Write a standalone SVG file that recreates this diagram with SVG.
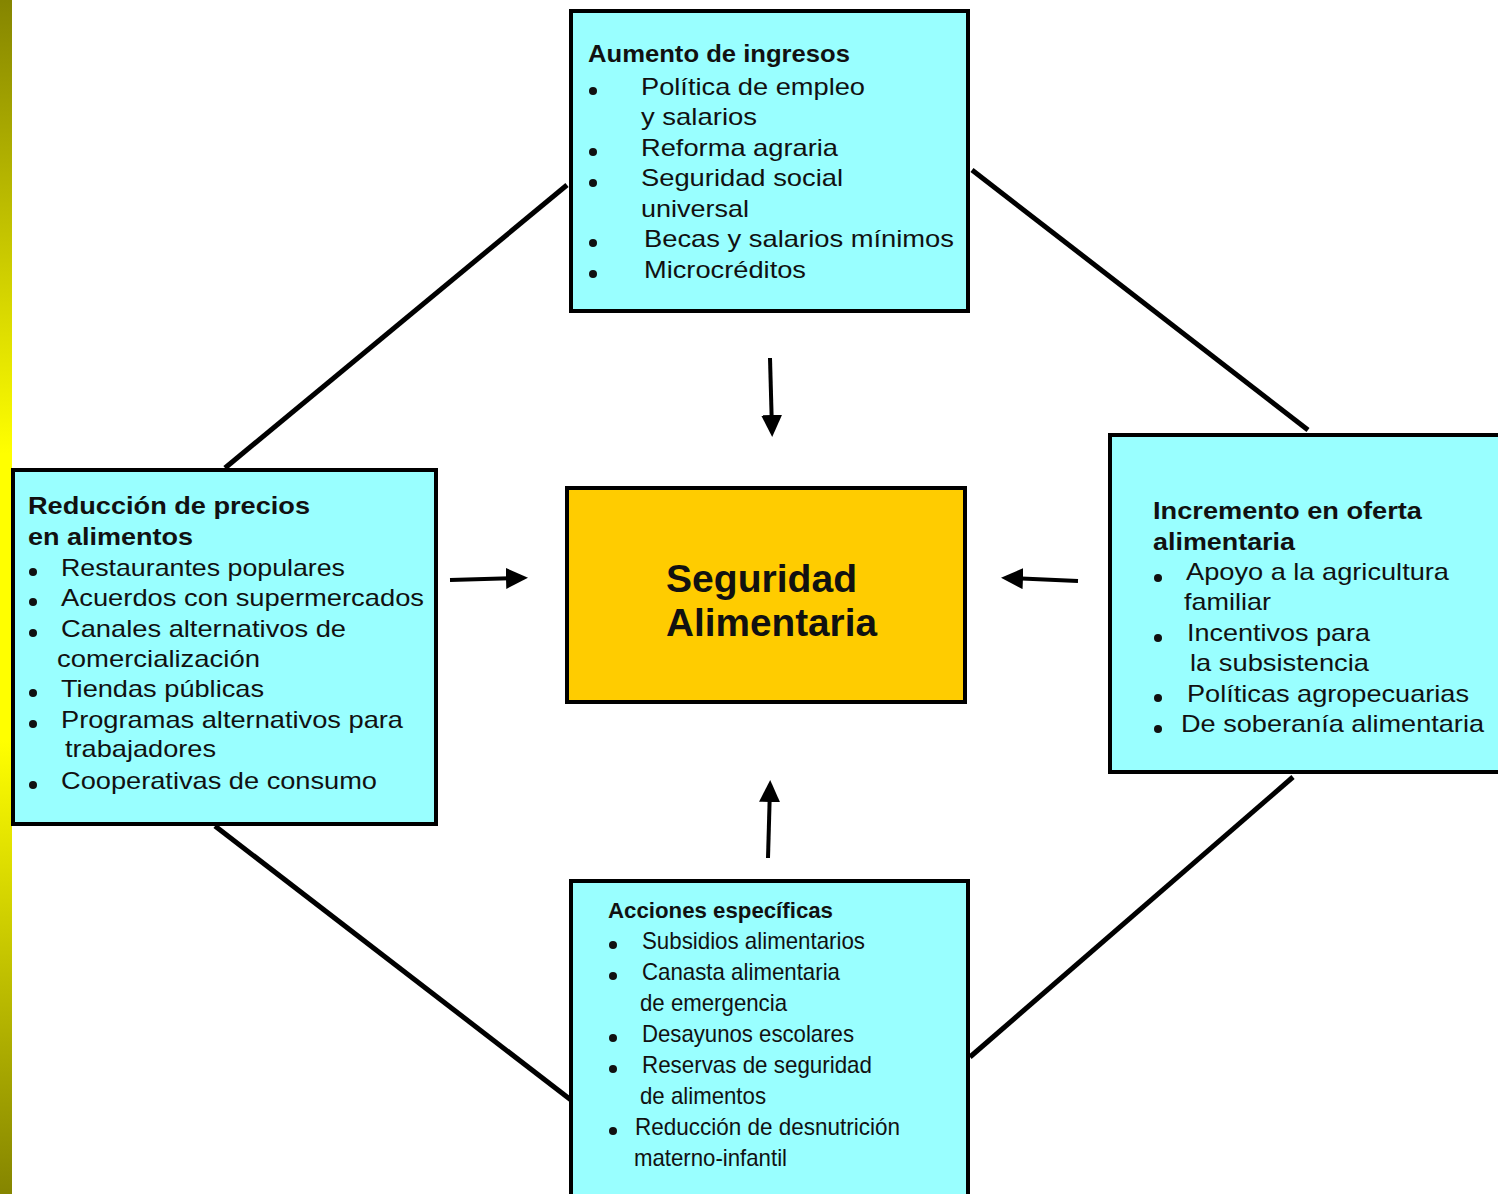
<svg xmlns="http://www.w3.org/2000/svg" width="1498" height="1194" viewBox="0 0 1498 1194">
<style>
.box{fill:#99ffff;stroke:#000;stroke-width:4}
.core{fill:#ffcc00;stroke:#000;stroke-width:4}
.t{font-family:"Liberation Sans",Arial,Helvetica,sans-serif;font-size:24px;fill:#111}
.h{font-weight:bold}
.c{font-family:"Liberation Sans",Arial,Helvetica,sans-serif;font-size:38px;font-weight:bold;fill:#111}
.s{font-size:22px}
.dot{fill:#111}
.diag{stroke:#000;stroke-width:5;fill:none}
.arr{stroke:#000;stroke-width:4;fill:none;marker-end:url(#ah)}
</style>
<defs>
<linearGradient id="strip" x1="0" y1="0" x2="0" y2="1">
<stop offset="0" stop-color="#858500"/>
<stop offset="0.38" stop-color="#ffff00"/>
<stop offset="0.62" stop-color="#ffff00"/>
<stop offset="1" stop-color="#858500"/>
</linearGradient>
<marker id="ah" markerUnits="userSpaceOnUse" markerWidth="24" markerHeight="22" refX="15" refY="10.5" orient="auto" viewBox="0 0 24 22">
<path d="M0,0 L22,10.5 L0,21 Z" fill="#000"/>
</marker>
</defs>
<rect x="0" y="0" width="1498" height="1194" fill="#fff"/>
<rect id="strip-left" x="0" y="0" width="12" height="1194" fill="url(#strip)"/>

<g id="connectors">
<line class="diag" x1="567" y1="185" x2="225" y2="468"/>
<line class="diag" x1="972" y1="170" x2="1308" y2="430"/>
<line class="diag" x1="215" y1="826" x2="571" y2="1100"/>
<line class="diag" x1="970" y1="1057" x2="1293" y2="777"/>
<line class="arr" x1="770" y1="358" x2="772" y2="430"/>
<line class="arr" x1="450" y1="580" x2="521" y2="578"/>
<line class="arr" x1="1078" y1="581" x2="1008" y2="578"/>
<line class="arr" x1="768" y1="858" x2="770" y2="787"/>
</g>

<g id="node-center">
<rect class="core" x="567" y="488" width="398" height="214"/>
<text class="c" x="666" y="592" textLength="191" lengthAdjust="spacingAndGlyphs">Seguridad</text>
<text class="c" x="666" y="636" textLength="211" lengthAdjust="spacingAndGlyphs">Alimentaria</text>
</g>

<g id="node-top">
<rect class="box" x="571" y="11" width="397" height="300"/>
<text class="t h" x="588" y="62" textLength="262" lengthAdjust="spacingAndGlyphs">Aumento de ingresos</text>
<circle class="dot" cx="593" cy="91" r="4"/>
<circle class="dot" cx="593" cy="152" r="4"/>
<circle class="dot" cx="593" cy="183" r="4"/>
<circle class="dot" cx="593" cy="243" r="4"/>
<circle class="dot" cx="593" cy="274" r="4"/>
<text class="t" x="641" y="95" textLength="224" lengthAdjust="spacingAndGlyphs">Política de empleo</text>
<text class="t" x="641" y="125" textLength="116" lengthAdjust="spacingAndGlyphs">y salarios</text>
<text class="t" x="641" y="156" textLength="197" lengthAdjust="spacingAndGlyphs">Reforma agraria</text>
<text class="t" x="641" y="186" textLength="202" lengthAdjust="spacingAndGlyphs">Seguridad social</text>
<text class="t" x="641" y="217" textLength="108" lengthAdjust="spacingAndGlyphs">universal</text>
<text class="t" x="644" y="247" textLength="310" lengthAdjust="spacingAndGlyphs">Becas y salarios mínimos</text>
<text class="t" x="644" y="278" textLength="162" lengthAdjust="spacingAndGlyphs">Microcréditos</text>
</g>

<g id="node-left">
<rect class="box" x="13" y="470" width="423" height="354"/>
<text class="t h" x="28" y="514" textLength="282" lengthAdjust="spacingAndGlyphs">Reducción de precios</text>
<text class="t h" x="28" y="545" textLength="165" lengthAdjust="spacingAndGlyphs">en alimentos</text>
<circle class="dot" cx="33" cy="572" r="4"/>
<circle class="dot" cx="33" cy="602" r="4"/>
<circle class="dot" cx="33" cy="633" r="4"/>
<circle class="dot" cx="33" cy="693" r="4"/>
<circle class="dot" cx="33" cy="724" r="4"/>
<circle class="dot" cx="33" cy="785" r="4"/>
<text class="t" x="61" y="576" textLength="284" lengthAdjust="spacingAndGlyphs">Restaurantes populares</text>
<text class="t" x="61" y="606" textLength="363" lengthAdjust="spacingAndGlyphs">Acuerdos con supermercados</text>
<text class="t" x="61" y="637" textLength="285" lengthAdjust="spacingAndGlyphs">Canales alternativos de</text>
<text class="t" x="57" y="667" textLength="203" lengthAdjust="spacingAndGlyphs">comercialización</text>
<text class="t" x="61" y="697" textLength="203" lengthAdjust="spacingAndGlyphs">Tiendas públicas</text>
<text class="t" x="61" y="728" textLength="342" lengthAdjust="spacingAndGlyphs">Programas alternativos para</text>
<text class="t" x="65" y="757" textLength="151" lengthAdjust="spacingAndGlyphs">trabajadores</text>
<text class="t" x="61" y="789" textLength="316" lengthAdjust="spacingAndGlyphs">Cooperativas de consumo</text>
</g>

<g id="node-right">
<rect class="box" x="1110" y="435" width="400" height="337"/>
<text class="t h" x="1153" y="519" textLength="269" lengthAdjust="spacingAndGlyphs">Incremento en oferta</text>
<text class="t h" x="1153" y="550" textLength="142" lengthAdjust="spacingAndGlyphs">alimentaria</text>
<circle class="dot" cx="1158" cy="578" r="4"/>
<circle class="dot" cx="1158" cy="638" r="4"/>
<circle class="dot" cx="1158" cy="698" r="4"/>
<circle class="dot" cx="1158" cy="729" r="4"/>
<text class="t" x="1186" y="580" textLength="263" lengthAdjust="spacingAndGlyphs">Apoyo a la agricultura</text>
<text class="t" x="1184" y="610" textLength="87" lengthAdjust="spacingAndGlyphs">familiar</text>
<text class="t" x="1187" y="641" textLength="183" lengthAdjust="spacingAndGlyphs">Incentivos para</text>
<text class="t" x="1190" y="671" textLength="179" lengthAdjust="spacingAndGlyphs">la subsistencia</text>
<text class="t" x="1187" y="702" textLength="282" lengthAdjust="spacingAndGlyphs">Políticas agropecuarias</text>
<text class="t" x="1181" y="732" textLength="303" lengthAdjust="spacingAndGlyphs">De soberanía alimentaria</text>
</g>

<g id="node-bottom">
<rect class="box" x="571" y="881" width="397" height="330"/>
<text class="t h s" x="608" y="918" textLength="225" lengthAdjust="spacingAndGlyphs">Acciones específicas</text>
<circle class="dot" cx="613" cy="945" r="4"/>
<circle class="dot" cx="613" cy="976" r="4"/>
<circle class="dot" cx="613" cy="1038" r="4"/>
<circle class="dot" cx="613" cy="1069" r="4"/>
<circle class="dot" cx="613" cy="1131" r="4"/>
<text class="t" x="642" y="949" textLength="223" lengthAdjust="spacingAndGlyphs">Subsidios alimentarios</text>
<text class="t" x="642" y="980" textLength="198" lengthAdjust="spacingAndGlyphs">Canasta alimentaria</text>
<text class="t" x="640" y="1011" textLength="147" lengthAdjust="spacingAndGlyphs">de emergencia</text>
<text class="t" x="642" y="1042" textLength="212" lengthAdjust="spacingAndGlyphs">Desayunos escolares</text>
<text class="t" x="642" y="1073" textLength="230" lengthAdjust="spacingAndGlyphs">Reservas de seguridad</text>
<text class="t" x="640" y="1104" textLength="126" lengthAdjust="spacingAndGlyphs">de alimentos</text>
<text class="t" x="635" y="1135" textLength="265" lengthAdjust="spacingAndGlyphs">Reducción de desnutrición</text>
<text class="t" x="634" y="1166" textLength="153" lengthAdjust="spacingAndGlyphs">materno-infantil</text>
</g>
</svg>
